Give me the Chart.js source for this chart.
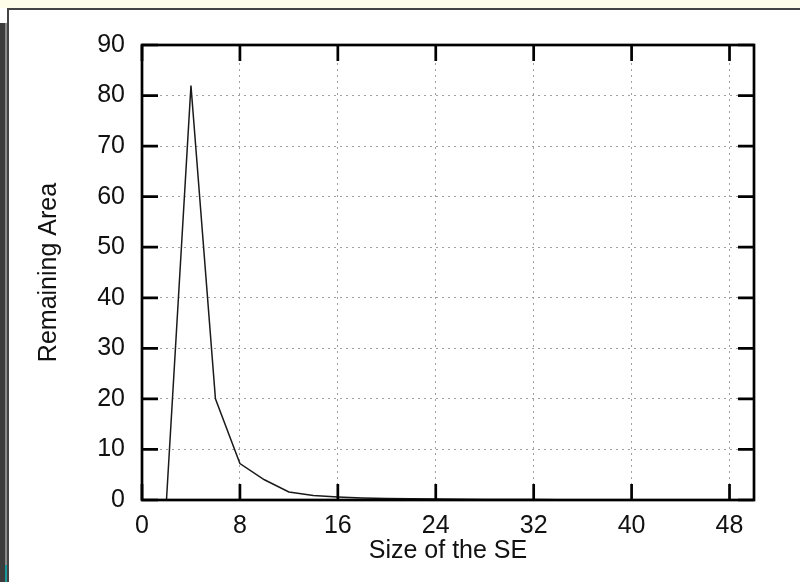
<!DOCTYPE html>
<html>
<head>
<meta charset="utf-8">
<script src="https://cdn.jsdelivr.net/npm/chart.js@4/dist/chart.umd.min.js"></script>
<style>
  html, body { margin: 0; padding: 0; background: #fff; }
  #wrap { position: relative; width: 800px; height: 582px; overflow: hidden; background: #fff; }
  #chart { position: absolute; left: 0; top: 0; }
  .fx { position: absolute; }
</style>
</head>
<body>
<div id="wrap">
  <canvas id="chart" width="800" height="582"></canvas>
  <div class="fx" style="left:0;top:0;width:800px;height:8px;background:#fdfde9"></div>
  <div class="fx" style="left:7px;top:8px;width:793px;height:2px;background:#444"></div>
  <div class="fx" style="left:0;top:8px;width:7px;height:15px;background:#fff"></div>
  <div class="fx" style="left:0;top:23px;width:5px;height:559px;background:#3c3c3c"></div>
  <div class="fx" style="left:5px;top:23px;width:2px;height:559px;background:#8a8a8a"></div>
  <div class="fx" style="left:7px;top:8px;width:2px;height:574px;background:#444"></div>
  <div class="fx" style="left:5px;top:565px;width:2px;height:17px;background:#1a9a9a"></div>
</div>
<script>
"use strict";

const seSizes = [2, 4, 6, 8, 10, 12, 14, 16, 18, 20, 22, 24, 26, 28, 30, 32, 34, 36, 38, 40, 42, 44, 46, 48];
const remainingArea = [0, 82, 20, 7.2, 4, 1.6, 0.9, 0.6, 0.4, 0.3, 0.25, 0.2, 0.15, 0.1, 0.1, 0.08, 0.05, 0.05, 0.03, 0.03, 0.02, 0.02, 0.01, 0];
const xTicks = [0, 8, 16, 24, 32, 40, 48];
const yTicks = [0, 10, 20, 30, 40, 50, 60, 70, 80, 90];
const X_TITLE = "Size of the SE";
const Y_TITLE = "Remaining Area";

const FONT = { family: "'Liberation Sans', Arial, sans-serif", size: 25 };
const TICK_LEN = 16;

// gnuplot style frame with inward ticks on all four sides
const framePlugin = {
  id: "frame",
  afterDatasetsDraw(chart) {
    const { ctx, chartArea: a, scales: { x, y } } = chart;
    ctx.save();
    ctx.strokeStyle = "#000";
    ctx.lineWidth = 2.7;
    ctx.beginPath();
    for (const v of xTicks) {
      const px = x.getPixelForValue(v);
      ctx.moveTo(px, a.bottom); ctx.lineTo(px, a.bottom - TICK_LEN);
      ctx.moveTo(px, a.top); ctx.lineTo(px, a.top + TICK_LEN);
    }
    for (const v of yTicks) {
      const py = y.getPixelForValue(v);
      ctx.moveTo(a.left, py); ctx.lineTo(a.left + TICK_LEN, py);
      ctx.moveTo(a.right, py); ctx.lineTo(a.right - TICK_LEN, py);
    }
    ctx.stroke();
    ctx.strokeRect(a.left, a.top, a.right - a.left, a.bottom - a.top);
    ctx.restore();
  }
};

function gridOpts() {
  return { color: "#a0a0a0", lineWidth: 1, drawTicks: false };
}

new Chart(document.getElementById("chart"), {
  type: "line",
  data: {
    labels: seSizes,
    datasets: [{
      data: seSizes.map((s, i) => ({ x: s, y: remainingArea[i] })),
      borderColor: "#1a1a1a", borderWidth: 1.5,
      pointRadius: 0, tension: 0, fill: false,
    }]
  },
  options: {
    responsive: false, animation: false,
    layout: { padding: { left: 0, top: 45, right: 46, bottom: 0 } },
    plugins: { legend: { display: false }, tooltip: { enabled: false } },
    scales: {
      x: {
        type: "linear", min: 0, max: 50,
        afterBuildTicks: s => { s.ticks = xTicks.map(v => ({ value: v })); },
        afterFit: s => { s.height = 82; },
        grid: gridOpts(),
        border: { display: false, dash: [2, 4] },
        ticks: { color: "#111", font: FONT, padding: 11, maxRotation: 0, autoSkip: false },
        title: { display: true, text: X_TITLE, color: "#111", font: FONT, padding: { top: 0, bottom: 16 } },
      },
      y: {
        type: "linear", min: 0, max: 90,
        afterBuildTicks: s => { s.ticks = yTicks.map(v => ({ value: v })); },
        afterFit: s => { s.width = 142; },
        grid: gridOpts(),
        border: { display: false, dash: [2, 4] },
        ticks: { color: "#111", font: FONT, padding: 17, autoSkip: false },
        title: { display: true, text: Y_TITLE, color: "#111", font: FONT, padding: { top: 34, bottom: 0 } },
      }
    }
  },
  plugins: [framePlugin]
});
</script>
</body>
</html>
